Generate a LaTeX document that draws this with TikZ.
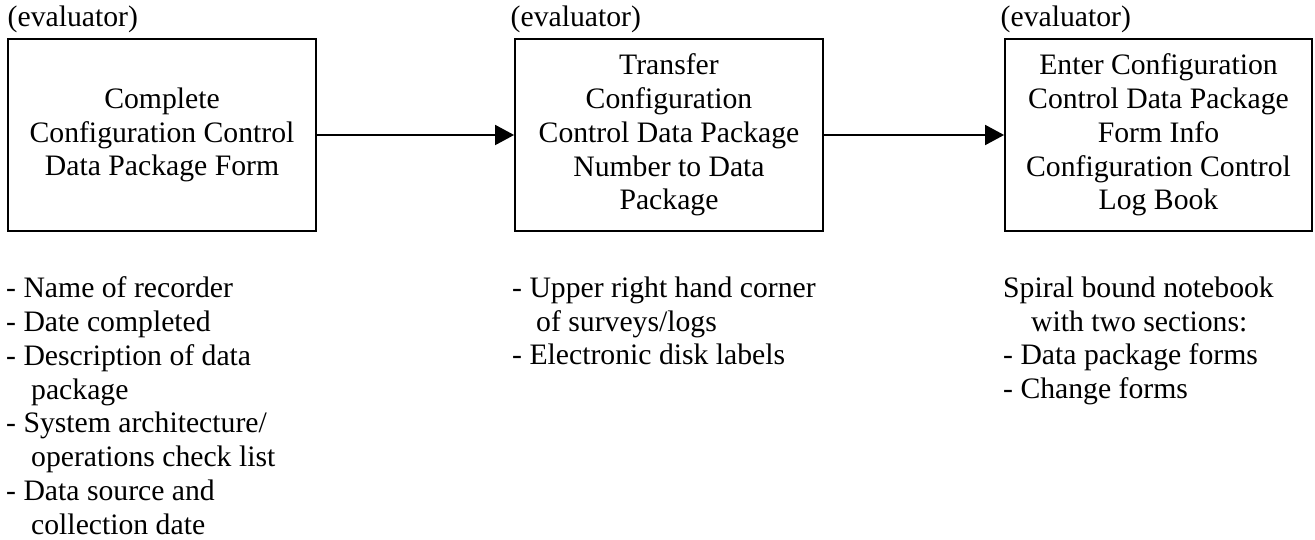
\documentclass[tikz,border=0pt]{standalone}
\usepackage{fontspec}
\setmainfont{Liberation Serif}
\usetikzlibrary{arrows.meta}

\begin{document}
\begin{tikzpicture}[x=1pt,y=-1pt,
  every node/.style={font=\fontsize{29.7}{33.8}\selectfont, inner sep=0pt},
  stepbox/.style={draw, line width=1.8pt, minimum width=308pt, minimum height=192pt, align=center},
  rolelabel/.style={anchor=base west},
  notes/.style={anchor=north west, align=left},
  flow/.style={line width=1.8pt, -{Triangle[length=19pt,width=20pt]}}
]
\useasboundingbox (0,0) rectangle (1315,540);

% process steps
\node[stepbox] (b1) at (162,135) {Complete\\Configuration Control\\Data Package Form};
\node[stepbox] (b2) at (669,135) {Transfer\\Configuration\\Control Data Package\\Number to Data\\Package};
\node[stepbox, minimum width=307pt] (b3) at (1158.5,135) {Enter Configuration\\Control Data Package\\Form Info\\Configuration Control\\Log Book};

% who performs each step
\node[rolelabel] (r1) at (7.5,27) {(evaluator)};
\node[rolelabel] (r2) at (510.5,27) {(evaluator)};
\node[rolelabel] (r3) at (1000.5,27) {(evaluator)};

% flow between steps
\draw[flow] (b1) -- (b2);
\draw[flow] (b2) -- (b3);

% notes under each step
\node[notes] (n1) at (6,276.5) {- Name of recorder\\- Date completed\\- Description of data\\\hspace*{25pt}package\\- System architecture/\\\hspace*{25pt}operations check list\\- Data source and\\\hspace*{25pt}collection date};
\node[notes] (n2) at (512,276.5) {- Upper right hand corner\\\hspace*{24pt}of surveys/logs\\- Electronic disk labels};
\node[notes] (n3) at (1003,276.5) {Spiral bound notebook\\\hspace*{28pt}with two sections:\\- Data package forms\\- Change forms};
\end{tikzpicture}
\end{document}
